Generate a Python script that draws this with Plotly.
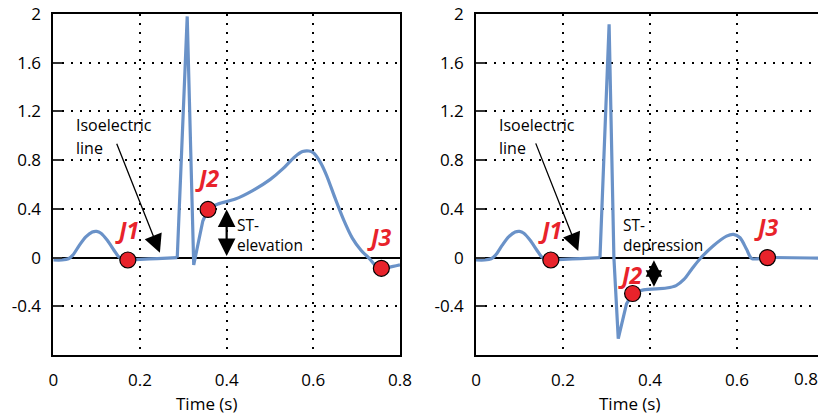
import plotly.graph_objects as go

# ---- ECG traces (time in s, amplitude in mV) ----
t_elev = [0.000, 0.020, 0.035, 0.045, 0.060, 0.075, 0.090, 0.100, 0.110, 0.125,
          0.140, 0.150, 0.160, 0.172, 0.200, 0.240, 0.286, 0.309, 0.324, 0.345,
          0.357, 0.380, 0.420, 0.460, 0.500, 0.530, 0.555, 0.575, 0.590, 0.600,
          0.615, 0.630, 0.650, 0.670, 0.690, 0.710, 0.730, 0.745, 0.757, 0.775,
          0.800]
v_elev = [-0.020, -0.020, -0.010, 0.020, 0.100, 0.170, 0.210, 0.215, 0.200, 0.140,
          0.060, 0.010, -0.015, -0.020, -0.015, -0.008, 0.000, 1.980, -0.060, 0.300,
          0.395, 0.440, 0.480, 0.550, 0.640, 0.730, 0.820, 0.870, 0.875, 0.860,
          0.790, 0.680, 0.490, 0.310, 0.160, 0.060, -0.010, -0.070, -0.088, -0.080,
          -0.060]

t_depr = [0.000, 0.020, 0.035, 0.045, 0.060, 0.075, 0.090, 0.100, 0.110, 0.125,
          0.140, 0.150, 0.160, 0.172, 0.200, 0.240, 0.285, 0.291, 0.306, 0.317,
          0.327, 0.346, 0.360, 0.385, 0.438, 0.460, 0.478, 0.495, 0.515, 0.545,
          0.576, 0.592, 0.607, 0.622, 0.634, 0.670, 0.800]
v_depr = [-0.020, -0.020, -0.010, 0.020, 0.100, 0.170, 0.210, 0.215, 0.200, 0.140,
          0.060, 0.010, -0.015, -0.020, -0.015, -0.008, 0.000, 0.580, 1.915, 0.000,
          -0.666, -0.380, -0.295, -0.265, -0.250, -0.230, -0.180, -0.100, -0.010,
          0.095, 0.176, 0.190, 0.163, 0.068, -0.008, 0.000, -0.005]

# QRS complex (drawn with straight segments): start of Q and the J2 point
qrs_elev = (0.286, 0.357)
qrs_depr = (0.285, 0.360)

# J points
j_labels = ["J1", "J2", "J3"]
j_t_elev = [0.172, 0.357, 0.757]
j_v_elev = [-0.020, 0.395, -0.088]
j_t_depr = [0.172, 0.360, 0.670]
j_v_depr = [-0.020, -0.295, 0.000]

# ST deviation measured at t = 0.4 s
st_elev = 0.395
st_depr = -0.240

y_ticks = [-0.4, 0, 0.4, 0.8, 1.2, 1.6, 2]
y_ticktext = ["-0.4", "0", "0.4", "0.8", "1.2", "1.6", "2"]
x_ticks = [0, 0.2, 0.4, 0.6, 0.8]
x_ticktext = ["0", "0.2", "0.4", "0.6", "0.8"]

# ---- styling ----
W, H = 818, 417
M_T, M_B = 14, 62
ECG_BLUE = "#6a92c8"
J_RED = "#e8232b"
FONT = "Open Sans"

fig = go.Figure()


def add_ecg(t, v, qrs, xa, ya):
    """Smooth P/ST/T waves, straight QRS spikes."""
    i0, i1 = t.index(qrs[0]), t.index(qrs[1])
    pieces = [(0, i0, "spline"), (i0, i1, "linear"), (i1, len(t) - 1, "spline")]
    for a, b, shape in pieces:
        fig.add_trace(go.Scatter(x=t[a:b + 1], y=v[a:b + 1], mode="lines",
                                 xaxis=xa, yaxis=ya,
                                 line=dict(color=ECG_BLUE, width=3.2, shape=shape,
                                           smoothing=0.8),
                                 hoverinfo="skip", showlegend=False))


for xa, ya, t, v, qrs, jt, jv in [
        ("x", "y", t_elev, v_elev, qrs_elev, j_t_elev, j_v_elev),
        ("x2", "y2", t_depr, v_depr, qrs_depr, j_t_depr, j_v_depr)]:
    add_ecg(t, v, qrs, xa, ya)
    fig.add_trace(go.Scatter(x=jt, y=jv, mode="markers", xaxis=xa, yaxis=ya,
                             marker=dict(size=16, color=J_RED,
                                         line=dict(color="black", width=1.2)),
                             cliponaxis=False, hoverinfo="skip", showlegend=False))

common_x = dict(showline=True, mirror=True, linecolor="black", linewidth=1.6,
                showgrid=True, gridcolor="black", gridwidth=2, griddash="2px,7px",
                zeroline=False, ticks="", tickvals=x_ticks, ticktext=x_ticktext,
                tickfont=dict(family=FONT, size=17, color="black"),
                ticklabelstandoff=9, automargin=False, fixedrange=True)
common_y = dict(showline=True, linecolor="black", linewidth=1.6,
                showgrid=True, gridcolor="black", gridwidth=2, griddash="2px,7px",
                zeroline=True, zerolinecolor="black", zerolinewidth=1.6,
                range=[-0.8, 2.0], tickvals=y_ticks, ticktext=y_ticktext,
                ticks="inside", ticklen=9, tickwidth=2, tickcolor="#333333",
                tickfont=dict(family=FONT, size=17, color="black"),
                ticklabelstandoff=7, automargin=False, fixedrange=True)

x1_dom = [53.3 / W, 400 / W]
x2_dom = [476 / W, 1.0]
x2_max = 0.8 * (W - 476) / (824 - 476)

fig.update_layout(
    width=W, height=H,
    margin=dict(l=0, r=0, t=M_T, b=M_B, pad=0),
    paper_bgcolor="white", plot_bgcolor="white",
    font=dict(family=FONT, color="black"),
    xaxis=dict(common_x, domain=x1_dom, range=[0, 0.8], anchor="y"),
    yaxis=dict(common_y, domain=[0, 1], anchor="x", mirror=True),
    xaxis2=dict(common_x, domain=x2_dom, range=[0, x2_max], anchor="y2"),
    yaxis2=dict(common_y, domain=[0, 1], anchor="x2", mirror=False),
)

ann = []


def txt(text, x, y, xref, yref, size=16, color="black", xanchor="left",
        bold=False, italic=False, align="left"):
    if bold:
        text = "<b>" + text + "</b>"
    if italic:
        text = "<i>" + text + "</i>"
    ann.append(dict(text=text, x=x, y=y, xref=xref, yref=yref, showarrow=False,
                    xanchor=xanchor, yanchor="middle", align=align,
                    font=dict(family=FONT, size=size, color=color)))


# J labels
for xr, yr, pos in [("x", "y", [(0.169, 0.227), (0.355, 0.651), (0.753, 0.167)]),
                    ("x2", "y2", [(0.170, 0.227), (0.356, -0.143), (0.667, 0.251)])]:
    for lab, (px, py) in zip(j_labels, pos):
        txt(lab, px, py, xr, yr, size=23, color=J_RED, xanchor="center",
            bold=True, italic=True)

# isoelectric line callouts
for xr, yr, tx, tip, tail in [("x", "y", 0.048, (0.246, 0.04), (0.145, 0.947)),
                              ("x2", "y2", 0.0476, (0.235, 0.054), (0.136, 0.95))]:
    txt("Isoelectric", tx, 1.089, xr, yr)
    txt("line", tx, 0.90, xr, yr)
    ann.append(dict(x=tip[0], y=tip[1], ax=tail[0], ay=tail[1], xref=xr, yref=yr,
                    axref=xr, ayref=yr, text="", showarrow=True, arrowhead=2,
                    arrowsize=2.8, arrowwidth=1.3, arrowcolor="black"))

# ST deviation arrows and text
txt("ST-<br>elevation", 0.420, 0.186, "x", "y", size=15.5)
ann.append(dict(x=0.4, y=st_elev, ax=0.4, ay=0.0, xref="x", yref="y", axref="x",
                ayref="y", text="", showarrow=True, arrowhead=2, startarrowhead=2,
                arrowside="end+start", arrowsize=1.6, arrowwidth=2.2,
                startarrowsize=1.6, arrowcolor="black"))
txt("ST-<br>depression", 0.333, 0.186, "x2", "y2", size=15.5)
ann.append(dict(x=0.409, y=st_depr, ax=0.409, ay=-0.01, xref="x2", yref="y2",
                axref="x2", ayref="y2", text="", showarrow=True, arrowhead=2,
                startarrowhead=2, arrowside="end+start", arrowsize=1.5,
                arrowwidth=2.2, startarrowsize=1.5, arrowcolor="black"))


# axis titles and the last tick label of the right panel
def py_paper(py):
    return (H - M_B - py) / (H - M_T - M_B)


for cx in (206.7, 629):
    ann.append(dict(text="Time (s)", x=cx / W, y=py_paper(403), xref="paper",
                    yref="paper", showarrow=False, xanchor="center",
                    yanchor="middle",
                    font=dict(family=FONT, size=17, color="black")))
ann.append(dict(text="0.8", x=806 / W, y=py_paper(378), xref="paper",
                yref="paper", showarrow=False, xanchor="center", yanchor="middle",
                font=dict(family=FONT, size=17, color="black")))

fig.update_layout(annotations=ann)
fig.write_html("out.html")
